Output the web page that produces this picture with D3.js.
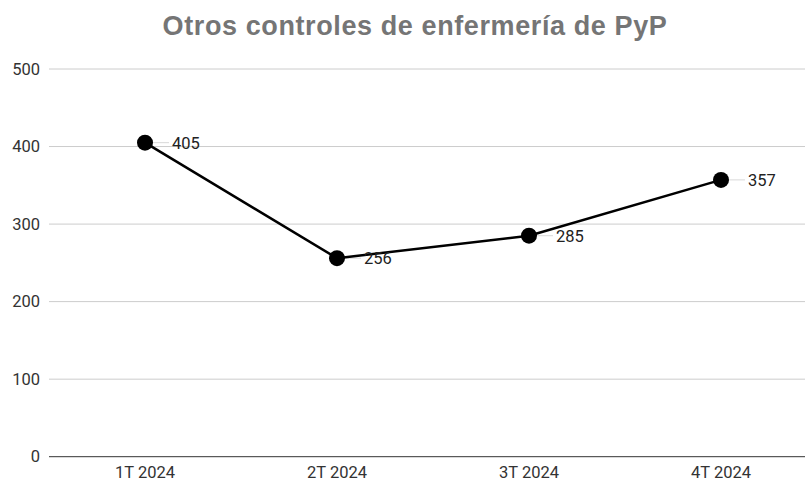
<!DOCTYPE html>
<html>
<head>
<meta charset="utf-8">
<script src="https://cdn.jsdelivr.net/npm/d3@7"></script>
<style>
  html, body { margin: 0; padding: 0; background: #fff; }
  svg { display: block; }
</style>
</head>
<body>
<svg id="chart" width="805" height="482"></svg>
<script>
const categories = ["1T 2024", "2T 2024", "3T 2024", "4T 2024"];
const values = [405, 256, 285, 357];
const yTicks = [0, 100, 200, 300, 400, 500];
const titleText = "Otros controles de enfermería de PyP";

(function () {
  const svg = d3.select("#chart");
  const W = 805, H = 482;
  const plotLeft = 49, plotRight = 817, plotTop = 69, plotBottom = 456.7;
  const labelFont = "Roboto, Arial, sans-serif";

  const x = d3.scaleBand().domain(categories).range([plotLeft, plotRight]).padding(0);
  const y = d3.scaleLinear().domain([0, 500]).range([plotBottom, plotTop]);

  svg.append("rect").attr("width", W).attr("height", H).attr("fill", "#fff");

  // title
  svg.append("text")
    .attr("x", 415).attr("y", 35)
    .attr("text-anchor", "middle")
    .style("font-family", "'Liberation Sans', Arial, sans-serif")
    .style("font-weight", "bold")
    .style("font-size", "27px")
    .style("letter-spacing", "0.6px")
    .attr("fill", "#757575")
    .text(titleText);

  // gridlines
  svg.append("g").selectAll("line").data(yTicks.filter(d => d > 0)).join("line")
    .attr("x1", plotLeft).attr("x2", W)
    .attr("y1", d => y(d)).attr("y2", d => y(d))
    .attr("stroke", "#cccccc").attr("stroke-width", 1);

  // y axis labels
  const yAxis = d3.axisLeft(y).tickValues(yTicks).tickSize(0).tickPadding(9);
  const gy = svg.append("g").attr("transform", `translate(${plotLeft},0)`).call(yAxis);
  gy.select(".domain").remove();
  gy.selectAll("text")
    .style("font-family", labelFont)
    .style("font-size", "16.5px")
    .attr("fill", "#333");

  // x axis
  const xAxis = d3.axisBottom(x).tickSize(0).tickPadding(10);
  const gx = svg.append("g").attr("transform", `translate(0,${plotBottom})`).call(xAxis);
  gx.select(".domain").remove();
  gx.selectAll("text")
    .style("font-family", labelFont)
    .style("font-size", "16.5px")
    .attr("fill", "#333");
  svg.append("line")
    .attr("x1", plotLeft).attr("x2", W)
    .attr("y1", plotBottom).attr("y2", plotBottom)
    .attr("stroke", "#333").attr("stroke-width", 1);

  const data = categories.map((c, i) => ({ c, v: values[i] }));
  const cx = d => x(d.c) + x.bandwidth() / 2;

  // leader lines to labels
  svg.append("g").selectAll("line").data(data).join("line")
    .attr("x1", cx).attr("x2", d => cx(d) + 24)
    .attr("y1", d => y(d.v)).attr("y2", d => y(d.v))
    .attr("stroke", "#d8d8d8").attr("stroke-width", 1);

  // series line
  svg.append("path").datum(data)
    .attr("fill", "none")
    .attr("stroke", "#000")
    .attr("stroke-width", 2.5)
    .attr("stroke-linejoin", "round")
    .attr("d", d3.line().x(cx).y(d => y(d.v)));

  // points
  svg.append("g").selectAll("circle").data(data).join("circle")
    .attr("cx", cx).attr("cy", d => y(d.v)).attr("r", 8)
    .attr("fill", "#000");

  // value labels
  svg.append("g").selectAll("text").data(data).join("text")
    .attr("x", d => cx(d) + 27)
    .attr("y", d => y(d.v))
    .attr("dy", "0.36em")
    .style("font-family", labelFont)
    .style("font-size", "16.5px")
    .attr("fill", "#222")
    .text(d => d.v);
})();
</script>
</body>
</html>
